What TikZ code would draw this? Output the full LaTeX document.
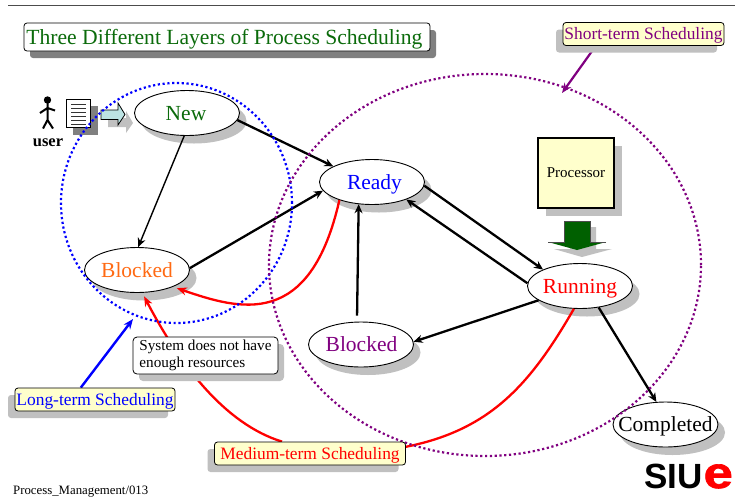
\documentclass[tikz,border=0pt]{standalone}
\usepackage{fontspec}
\setmainfont{Liberation Serif}
\newfontfamily\logofont{Liberation Sans}
\newfontface\logoface{Liberation Sans Bold}[FakeBold=1.5,FakeStretch=1.2]
\usetikzlibrary{shapes.geometric,shadows,arrows.meta,calc}
\definecolor{shgray}{HTML}{C0C0C0}
\definecolor{titlegreen}{HTML}{0B6B0B}
\definecolor{ltyellow}{HTML}{FFFFCC}
\definecolor{mypurple}{HTML}{800080}
\definecolor{myorange}{HTML}{FF6A13}
\definecolor{dkgreen}{HTML}{006000}
\definecolor{paleblue}{HTML}{BCE3E3}
\pgfdeclarelayer{front}
\pgfsetlayers{main,front}
\tikzset{
  state/.style={ellipse,draw=black,line width=0.9pt,fill=white,minimum width=105pt,minimum height=45pt,inner sep=0pt,font=\fontsize{21.5}{23}\selectfont,text height=19pt,text depth=5pt,
    general shadow={fill=shgray,shadow xshift=7pt,shadow yshift=-8pt}},
  tag/.style={rectangle,rounded corners=3pt,draw=black,line width=0.8pt,fill=ltyellow,inner sep=0pt,font=\fontsize{17.4}{19}\selectfont,text height=15pt,text depth=4pt,
    general shadow={fill=shgray,shadow xshift=-7pt,shadow yshift=-7pt}},
  flow/.style={draw=black,line width=2.3pt,-{Stealth[length=9pt,width=8pt]}},
  thinflow/.style={draw=black,line width=1.4pt,-{Stealth[length=9pt,width=8pt]}},
  redflow/.style={draw=red,line width=2.3pt},
  ring/.style={ellipse,draw,line width=2.2pt,dash pattern=on 2.2pt off 2.6pt,inner sep=0pt},
}
\begin{document}
\begin{tikzpicture}[x=1pt,y=-1pt]
\useasboundingbox (0,0) rectangle (735,496);
\fill[white] (0,0) rectangle (735,496);
% top rule
\coordinate (ruleL) at (8,5);
\coordinate (ruleR) at (735,5);
\draw[black!70,line width=0.9pt] (ruleL) -- (ruleR);
% title
\node[rectangle,rounded corners=3pt,draw=black,line width=0.8pt,fill=white,minimum width=406pt,minimum height=28pt,inner sep=0pt,text=titlegreen,font=\fontsize{21.6}{23}\selectfont,text height=19pt,text depth=5pt,
  general shadow={fill=black!50,shadow xshift=6pt,shadow yshift=-7pt}] (title) at (227,37) {\hspace*{-5pt}Three Different Layers of Process Scheduling};
% user
\node[font=\fontsize{16.5}{18}\selectfont\bfseries] (user) at (48,143) {user};
\fill (47.5,100) circle (3.7pt);
\draw[line width=2pt] (47.5,102) -- (47.5,120) (40,113) -- (47.5,108) -- (55,110.5) (43,128.5) -- (47.5,120) -- (53,128.5);
\fill[black!50] (73,106) rectangle (98,135);
\draw[fill=white,line width=1pt] (66.5,99.5) rectangle (90.5,127.5);
\foreach \yy in {104,108,112,116,120,124}{\draw[black!80,line width=1pt] (71,\yy) -- (86,\yy);}
\fill[shgray] (108,118) -- (126,118) -- (126,111) -- (133,123) -- (126,133) -- (126,127) -- (108,127) -- cycle;
\draw[fill=paleblue,line width=0.8pt] (101,110) -- (118,110) -- (118,103) -- (125,114.5) -- (118,125) -- (118,119.5) -- (101,119.5) -- cycle;
% processor
\node[rectangle,draw=black,line width=1.4pt,fill=ltyellow,minimum width=76pt,minimum height=70pt,inner sep=0pt,font=\fontsize{15}{17}\selectfont,
  general shadow={fill=shgray,shadow xshift=8pt,shadow yshift=-8pt}] (proc) at (576,173) {Processor};
\fill[shgray] (570,227) -- (596,227) -- (596,249) -- (612,249) -- (582,257) -- (554,249) -- (570,249) -- cycle;
\fill[dkgreen] (564,221) -- (590,221) -- (590,242) -- (606,242) -- (577,250) -- (548,242) -- (564,242) -- cycle;
\draw[black!70,line width=0.6pt] (548,242) -- (564,242) -- (564,221) -- (590,221) -- (590,242) -- (606,242);
% states
\node[state,text=titlegreen] (new) at (187,113) {\hspace*{-2pt}New};
\node[state,text=myorange] (blockA) at (137,270) {Blocked};
\node[state,text=blue] (ready) at (372,182) {\hspace*{5pt}Ready};
\node[state,text=red] (running) at (580,286) {Running};
\node[state,text=mypurple] (blockB) at (361,344.5) {\hspace*{1pt}Blocked};
\node[state] (done) at (665.5,424.5) {\makebox[0pt]{Completed}};
% flows
\draw[flow] (new.-8) -- (ready.158);
\draw[thinflow] (new.-97) -- (blockA.87);
\draw[flow] (blockA.2) -- (ready.190);
\draw[flow] (ready.-4) -- (running.156);
\draw[flow] (running.177) -- (ready.-27);
\draw[flow,shorten <=6pt] (blockB.100) -- (ready.-121);
\draw[flow] (running.199) -- (blockB.3);
\draw[flow] (running.-49) -- (done.112);
\draw[redflow,-{Stealth[length=10pt,width=8pt]},shorten >=4pt] (ready.209) .. controls (310,330) and (240,310) .. (blockA.-25);
% labels on top
\begin{pgfonlayer}{front}
\node[tag,minimum width=191pt,minimum height=23pt,text=red] (medium) at (310,453.5) {Medium-term Scheduling};
\node[tag,minimum width=160pt,minimum height=23pt,text=blue] (long) at (95,399.5) {Long-term Scheduling};
\node[tag,minimum width=161pt,minimum height=23pt,text=mypurple] (short) at (643.5,34) {Short-term Scheduling};
\node[rectangle,rounded corners=4pt,draw=black,line width=0.8pt,fill=white,minimum width=145pt,minimum height=37pt,inner sep=0pt,font=\fontsize{15.2}{17.5}\selectfont,
  general shadow={fill=shgray,shadow xshift=6pt,shadow yshift=-7pt}] (sys) at (205.5,355.5) {\raisebox{-1.5pt}{\begin{tabular}{@{}l@{}}System does not have\\[-0.5pt]enough resources\end{tabular}}};
\end{pgfonlayer}
\draw[redflow,-{Stealth[length=10pt,width=8pt]},shorten >=4pt] (medium.157) .. controls (225,424) and (180,365) .. (blockA.-77);
\draw[redflow] (medium.4) .. controls (490,430) and (530,385) .. (running.-105);
\draw[draw=blue,line width=2.4pt,-{Stealth[length=10pt,width=8pt]}] (long.140) -- (133,319);
\draw[draw=mypurple,line width=2.2pt,-{Stealth[length=10pt,width=8pt]}] (short.194.5) -- (562,93);
% dotted rings
\node[ring,draw=blue,minimum width=231pt,minimum height=240pt] (longring) at (176.5,203) {};
\node[ring,draw=mypurple,minimum width=432pt,minimum height=382pt] (shortring) at (485,265) {};
% footer and logo
\node[anchor=base west,inner sep=0pt,font=\fontsize{12.8}{14}\selectfont] (foot) at (13,494) {Process\_Management/013};
\node[anchor=base west,inner sep=0pt,font=\logofont\bfseries\fontsize{35}{37}\selectfont] (logo) at (644,488) {SIU\hspace{1pt}{\color{red}\logoface\fontsize{44}{44}\selectfont e}};
\end{tikzpicture}
\end{document}
